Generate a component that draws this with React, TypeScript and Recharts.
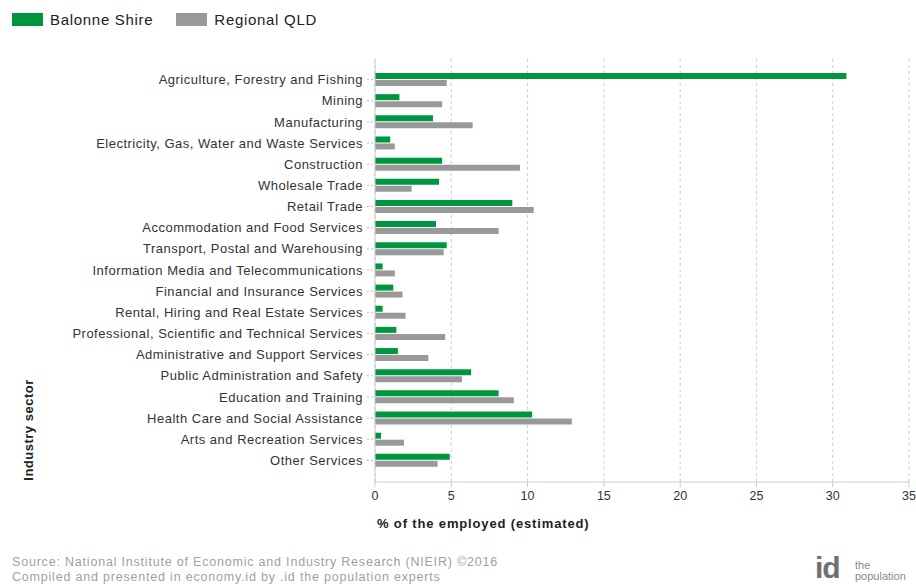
import React from "react";
import { BarChart, Bar, XAxis, YAxis, CartesianGrid, Label } from "recharts";

const categories = [
  "Agriculture, Forestry and Fishing",
  "Mining",
  "Manufacturing",
  "Electricity, Gas, Water and Waste Services",
  "Construction",
  "Wholesale Trade",
  "Retail Trade",
  "Accommodation and Food Services",
  "Transport, Postal and Warehousing",
  "Information Media and Telecommunications",
  "Financial and Insurance Services",
  "Rental, Hiring and Real Estate Services",
  "Professional, Scientific and Technical Services",
  "Administrative and Support Services",
  "Public Administration and Safety",
  "Education and Training",
  "Health Care and Social Assistance",
  "Arts and Recreation Services",
  "Other Services",
];

const balonneShire = [30.9, 1.6, 3.8, 1.0, 4.4, 4.2, 9.0, 4.0, 4.7, 0.5, 1.2, 0.5, 1.4, 1.5, 6.3, 8.1, 10.3, 0.4, 4.9];
const regionalQLD = [4.7, 4.4, 6.4, 1.3, 9.5, 2.4, 10.4, 8.1, 4.5, 1.3, 1.8, 2.0, 4.6, 3.5, 5.7, 9.1, 12.9, 1.9, 4.1];

const xTicks = [0, 5, 10, 15, 20, 25, 30, 35];

const seriesNames = ["Balonne Shire", "Regional QLD"];
const colors = ["#00963f", "#999999"];

const data = categories.map((name, i) => ({
  name,
  balonne: balonneShire[i],
  regional: regionalQLD[i],
}));

const FONT = "'Liberation Sans', Arial, sans-serif";

export default function App() {
  return (
    <div style={{ position: "absolute", left: 0, top: 0, width: 916, height: 584, background: "#fff", fontFamily: FONT, overflow: "hidden" }}>
      <BarChart
        width={916}
        height={584}
        data={data}
        layout="vertical"
        margin={{ top: 59, right: 7, bottom: 62, left: 0 }}
        barSize={6}
        barGap={1}
      >
        <CartesianGrid horizontal={false} stroke="#cccccc" strokeDasharray="3 3" />
        <XAxis
          type="number"
          domain={[0, 35]}
          ticks={xTicks}
          height={40}
          axisLine={{ stroke: "#cccccc" }}
          tickLine={{ stroke: "#cccccc" }}
          tickSize={5}
          tickMargin={4}
          tick={{ fill: "#333333", fontSize: 12.5, fontFamily: FONT }}
        >
          <Label
            content={(props: any) => {
              const vb = props.viewBox;
              return (
                <text x={377} y={vb.y + 46} fill="#222" fontSize={13} fontWeight="bold" fontFamily={FONT} letterSpacing={0.85}>
                  % of the employed (estimated)
                </text>
              );
            }}
          />
        </XAxis>
        <YAxis
          type="category"
          dataKey="name"
          width={375}
          padding={{ top: 10, bottom: 11 }}
          axisLine={{ stroke: "#cccccc" }}
          tickLine={{ stroke: "#bbbbbb", strokeDasharray: "2 2" }}
          tickSize={8}
          tickMargin={4}
          interval={0}
          tick={{ fill: "#333333", fontSize: 13, fontFamily: FONT, letterSpacing: 0.5 }}
        >
          <Label
            content={() => (
              <text
                x={33}
                y={430}
                transform="rotate(-90 33 430)"
                textAnchor="middle"
                fill="#222"
                fontSize={13}
                fontWeight="bold"
                fontFamily={FONT}
                letterSpacing={0.5}
              >
                Industry sector
              </text>
            )}
          />
        </YAxis>
        <Bar dataKey="balonne" name={seriesNames[0]} fill={colors[0]} isAnimationActive={false} />
        <Bar dataKey="regional" name={seriesNames[1]} fill={colors[1]} isAnimationActive={false} />
      </BarChart>

      {/* Legend */}
      <div style={{ position: "absolute", left: 12, top: 11, display: "flex", alignItems: "center", fontSize: 15, letterSpacing: 0.7, color: "#222" }}>
        <span style={{ display: "inline-block", width: 31, height: 13, background: colors[0], marginRight: 7 }} />
        <span style={{ marginRight: 23 }}>{seriesNames[0]}</span>
        <span style={{ display: "inline-block", width: 31, height: 13, background: colors[1], marginRight: 7 }} />
        <span>{seriesNames[1]}</span>
      </div>

      {/* Footer */}
      <div style={{ position: "absolute", left: 12, top: 555, fontSize: 12.5, lineHeight: "15px", letterSpacing: 0.8, color: "#a0a0a0" }}>
        <div>Source: National Institute of Economic and Industry Research (NIEIR) ©2016</div>
        <div>Compiled and presented in economy.id by .id the population experts</div>
      </div>

      {/* Logo */}
      <div style={{ position: "absolute", left: 815, top: 553, fontSize: 30, fontWeight: "bold", color: "#6f6f6f", lineHeight: "30px", letterSpacing: -1 }}>
        id
      </div>
      <div style={{ position: "absolute", left: 855, top: 560, fontSize: 11, lineHeight: "11px", color: "#8a8a8a" }}>
        <div>the</div>
        <div>population</div>
      </div>
    </div>
  );
}
